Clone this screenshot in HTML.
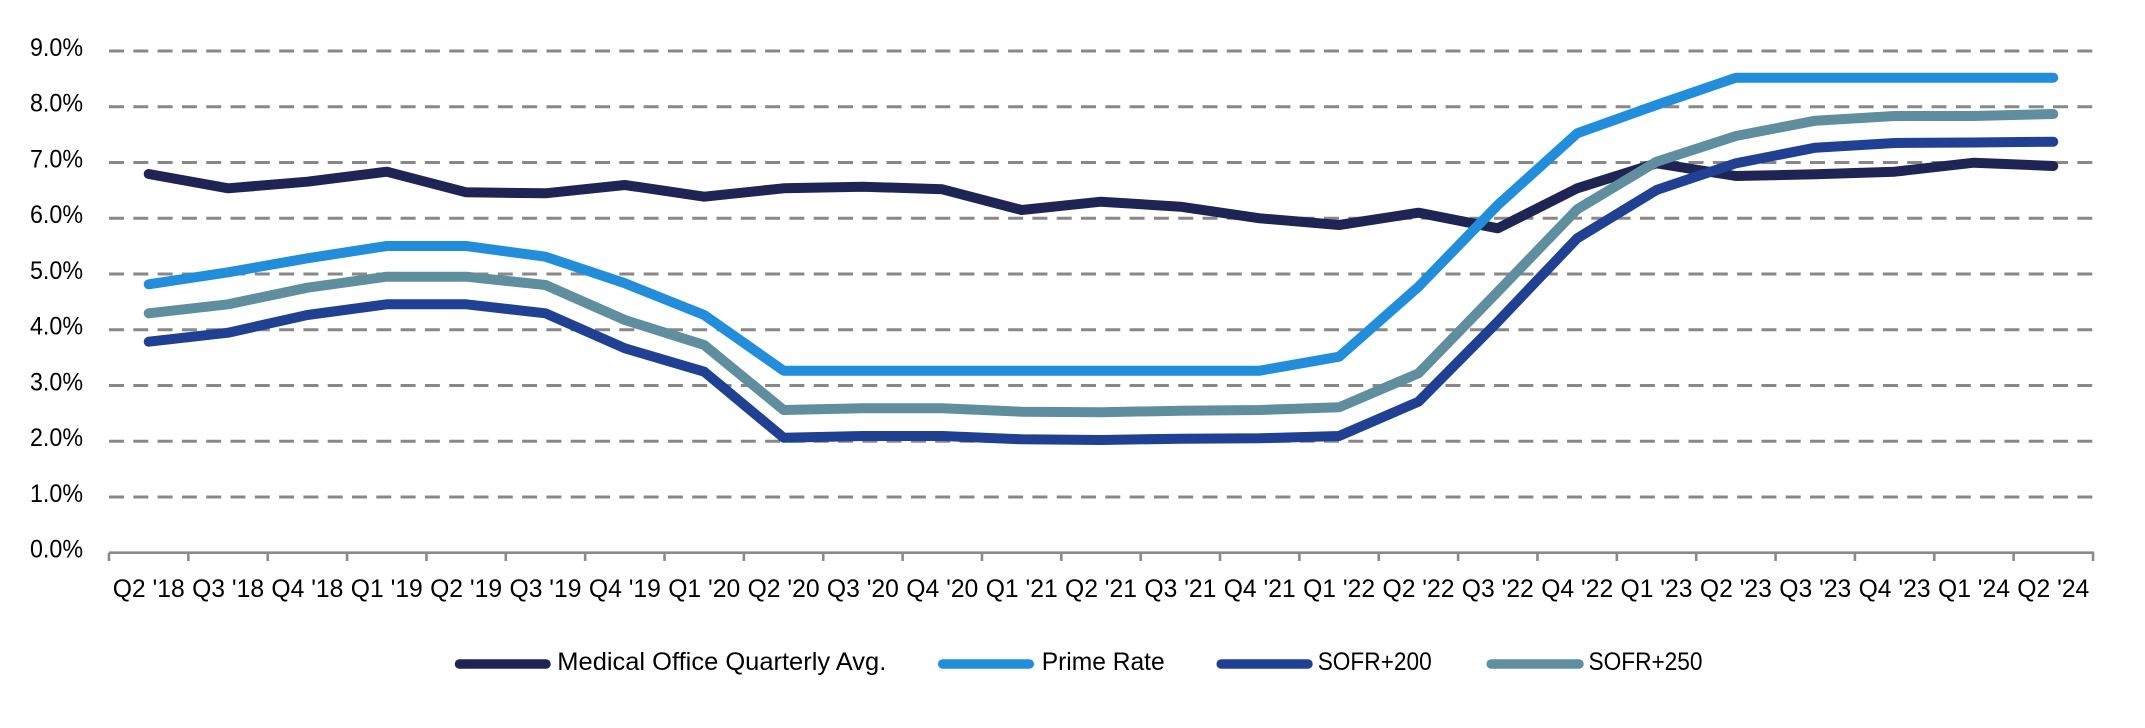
<!DOCTYPE html>
<html>
<head>
<meta charset="utf-8">
<style>
  html, body { margin: 0; padding: 0; background: #ffffff; }
  body { width: 2145px; height: 728px; overflow: hidden; }
  svg { display: block; }
  text { font-family: "Liberation Sans", Arial, sans-serif; fill: #000; }
</style>
</head>
<body>
<svg width="2145" height="728" viewBox="0 0 2145 728" xmlns="http://www.w3.org/2000/svg">
  <rect x="0" y="0" width="2145" height="728" fill="#ffffff"/>

  <!-- Gridlines -->
  <g stroke="#888888" stroke-width="3" stroke-dasharray="15 9.3" fill="none">
    <line x1="109" y1="496.95" x2="2093" y2="496.95"/>
    <line x1="109" y1="441.2" x2="2093" y2="441.2"/>
    <line x1="109" y1="385.45" x2="2093" y2="385.45"/>
    <line x1="109" y1="329.7" x2="2093" y2="329.7"/>
    <line x1="109" y1="273.95" x2="2093" y2="273.95"/>
    <line x1="109" y1="218.2" x2="2093" y2="218.2"/>
    <line x1="109" y1="162.45" x2="2093" y2="162.45"/>
    <line x1="109" y1="106.7" x2="2093" y2="106.7"/>
    <line x1="109" y1="50.95" x2="2093" y2="50.95"/>
  </g>

  <!-- X axis -->
  <g stroke="#8a8a8a" stroke-width="2.6" fill="none">
    <line x1="109" y1="552.7" x2="2094" y2="552.7"/>
    <line x1="109" y1="552.7" x2="109" y2="561"/>
    <line x1="188.36" y1="552.7" x2="188.36" y2="561"/>
    <line x1="267.72" y1="552.7" x2="267.72" y2="561"/>
    <line x1="347.08" y1="552.7" x2="347.08" y2="561"/>
    <line x1="426.44" y1="552.7" x2="426.44" y2="561"/>
    <line x1="505.8" y1="552.7" x2="505.8" y2="561"/>
    <line x1="585.16" y1="552.7" x2="585.16" y2="561"/>
    <line x1="664.52" y1="552.7" x2="664.52" y2="561"/>
    <line x1="743.88" y1="552.7" x2="743.88" y2="561"/>
    <line x1="823.24" y1="552.7" x2="823.24" y2="561"/>
    <line x1="902.6" y1="552.7" x2="902.6" y2="561"/>
    <line x1="981.96" y1="552.7" x2="981.96" y2="561"/>
    <line x1="1061.32" y1="552.7" x2="1061.32" y2="561"/>
    <line x1="1140.68" y1="552.7" x2="1140.68" y2="561"/>
    <line x1="1220.04" y1="552.7" x2="1220.04" y2="561"/>
    <line x1="1299.4" y1="552.7" x2="1299.4" y2="561"/>
    <line x1="1378.76" y1="552.7" x2="1378.76" y2="561"/>
    <line x1="1458.12" y1="552.7" x2="1458.12" y2="561"/>
    <line x1="1537.48" y1="552.7" x2="1537.48" y2="561"/>
    <line x1="1616.84" y1="552.7" x2="1616.84" y2="561"/>
    <line x1="1696.2" y1="552.7" x2="1696.2" y2="561"/>
    <line x1="1775.56" y1="552.7" x2="1775.56" y2="561"/>
    <line x1="1854.92" y1="552.7" x2="1854.92" y2="561"/>
    <line x1="1934.28" y1="552.7" x2="1934.28" y2="561"/>
    <line x1="2013.64" y1="552.7" x2="2013.64" y2="561"/>
    <line x1="2093" y1="552.7" x2="2093" y2="561"/>
  </g>

  <!-- Y labels -->
  <g font-size="25" text-anchor="end">
    <text x="83" y="557.7" textLength="53" lengthAdjust="spacingAndGlyphs">0.0%</text>
    <text x="83" y="501.95" textLength="53" lengthAdjust="spacingAndGlyphs">1.0%</text>
    <text x="83" y="446.2" textLength="53" lengthAdjust="spacingAndGlyphs">2.0%</text>
    <text x="83" y="390.45" textLength="53" lengthAdjust="spacingAndGlyphs">3.0%</text>
    <text x="83" y="334.7" textLength="53" lengthAdjust="spacingAndGlyphs">4.0%</text>
    <text x="83" y="278.95" textLength="53" lengthAdjust="spacingAndGlyphs">5.0%</text>
    <text x="83" y="223.2" textLength="53" lengthAdjust="spacingAndGlyphs">6.0%</text>
    <text x="83" y="167.45" textLength="53" lengthAdjust="spacingAndGlyphs">7.0%</text>
    <text x="83" y="111.7" textLength="53" lengthAdjust="spacingAndGlyphs">8.0%</text>
    <text x="83" y="55.95" textLength="53" lengthAdjust="spacingAndGlyphs">9.0%</text>
  </g>

  <!-- X labels -->
  <g font-size="25" text-anchor="middle">
    <text x="148.7" y="597" textLength="72" lengthAdjust="spacingAndGlyphs">Q2 '18</text>
    <text x="228.1" y="597" textLength="72" lengthAdjust="spacingAndGlyphs">Q3 '18</text>
    <text x="307.4" y="597" textLength="72" lengthAdjust="spacingAndGlyphs">Q4 '18</text>
    <text x="386.8" y="597" textLength="72" lengthAdjust="spacingAndGlyphs">Q1 '19</text>
    <text x="466.1" y="597" textLength="72" lengthAdjust="spacingAndGlyphs">Q2 '19</text>
    <text x="545.5" y="597" textLength="72" lengthAdjust="spacingAndGlyphs">Q3 '19</text>
    <text x="624.9" y="597" textLength="72" lengthAdjust="spacingAndGlyphs">Q4 '19</text>
    <text x="704.2" y="597" textLength="72" lengthAdjust="spacingAndGlyphs">Q1 '20</text>
    <text x="783.6" y="597" textLength="72" lengthAdjust="spacingAndGlyphs">Q2 '20</text>
    <text x="862.9" y="597" textLength="72" lengthAdjust="spacingAndGlyphs">Q3 '20</text>
    <text x="942.3" y="597" textLength="72" lengthAdjust="spacingAndGlyphs">Q4 '20</text>
    <text x="1021.7" y="597" textLength="72" lengthAdjust="spacingAndGlyphs">Q1 '21</text>
    <text x="1101.0" y="597" textLength="72" lengthAdjust="spacingAndGlyphs">Q2 '21</text>
    <text x="1180.4" y="597" textLength="72" lengthAdjust="spacingAndGlyphs">Q3 '21</text>
    <text x="1259.7" y="597" textLength="72" lengthAdjust="spacingAndGlyphs">Q4 '21</text>
    <text x="1339.1" y="597" textLength="72" lengthAdjust="spacingAndGlyphs">Q1 '22</text>
    <text x="1418.5" y="597" textLength="72" lengthAdjust="spacingAndGlyphs">Q2 '22</text>
    <text x="1497.8" y="597" textLength="72" lengthAdjust="spacingAndGlyphs">Q3 '22</text>
    <text x="1577.2" y="597" textLength="72" lengthAdjust="spacingAndGlyphs">Q4 '22</text>
    <text x="1656.5" y="597" textLength="72" lengthAdjust="spacingAndGlyphs">Q1 '23</text>
    <text x="1735.9" y="597" textLength="72" lengthAdjust="spacingAndGlyphs">Q2 '23</text>
    <text x="1815.3" y="597" textLength="72" lengthAdjust="spacingAndGlyphs">Q3 '23</text>
    <text x="1894.6" y="597" textLength="72" lengthAdjust="spacingAndGlyphs">Q4 '23</text>
    <text x="1974.0" y="597" textLength="72" lengthAdjust="spacingAndGlyphs">Q1 '24</text>
    <text x="2053.3" y="597" textLength="72" lengthAdjust="spacingAndGlyphs">Q2 '24</text>
  </g>

  <!-- Series -->
  <g fill="none" stroke-width="10" stroke-linecap="round" stroke-linejoin="round">
    <!-- Medical Office Quarterly Avg. -->
    <polyline stroke="#1e2454" points="148.7,174 228.1,188.3 307.4,181.7 386.8,171.7 466.1,192.3 545.5,193.3 624.9,185 704.2,196.7 783.6,188.3 862.9,186.7 942.3,189.3 1021.7,210 1101.0,201.7 1180.4,206.7 1259.7,218.3 1339.1,225 1418.5,212.7 1497.8,228.3 1577.2,188.3 1656.5,163.3 1735.9,176 1815.3,174.3 1894.6,171.7 1974.0,162.7 2053.3,166"/>
    <!-- Prime Rate -->
    <polyline stroke="#228edb" points="148.7,284.3 228.1,272.3 307.4,258.3 386.8,246 466.1,246 545.5,256.7 624.9,283.3 704.2,315 783.6,370.7 862.9,370.7 942.3,370.7 1021.7,370.7 1101.0,370.7 1180.4,370.7 1259.7,370.7 1339.1,356.7 1418.5,286.7 1497.8,205 1577.2,133.3 1656.5,105 1735.9,77.7 1815.3,77.7 1894.6,77.7 1974.0,77.7 2053.3,77.7"/>
    <!-- SOFR+200 -->
    <polyline stroke="#1f4093" points="148.7,341.7 228.1,332.7 307.4,315 386.8,304.3 466.1,304.3 545.5,313.3 624.9,348.3 704.2,371.7 783.6,437.7 862.9,436 942.3,436 1021.7,439.3 1101.0,440 1180.4,438.7 1259.7,438.3 1339.1,436 1418.5,401.7 1497.8,321.7 1577.2,238.3 1656.5,190 1735.9,163.3 1815.3,147.7 1894.6,143 1974.0,142.5 2053.3,141.7"/>
    <!-- SOFR+250 -->
    <polyline stroke="#5f8f9e" points="148.7,313.3 228.1,304.3 307.4,287.7 386.8,276.7 466.1,276.7 545.5,285 624.9,320 704.2,345 783.6,410 862.9,408.3 942.3,408.3 1021.7,411.7 1101.0,412.3 1180.4,410.7 1259.7,410 1339.1,407.3 1418.5,373.3 1497.8,291.7 1577.2,209.3 1656.5,161.7 1735.9,136 1815.3,120.7 1894.6,116 1974.0,116 2053.3,114"/>
  </g>

  <!-- Legend -->
  <g fill="none" stroke-width="9.5" stroke-linecap="round">
    <line x1="459.5" y1="664" x2="546" y2="664" stroke="#1e2454"/>
    <line x1="942.7" y1="664" x2="1029.3" y2="664" stroke="#228edb"/>
    <line x1="1221.2" y1="664" x2="1308" y2="664" stroke="#1f4093"/>
    <line x1="1491.2" y1="664" x2="1579" y2="664" stroke="#5f8f9e"/>
  </g>
  <g font-size="25">
    <text x="557.3" y="670" textLength="329" lengthAdjust="spacingAndGlyphs">Medical Office Quarterly Avg.</text>
    <text x="1041.7" y="670" textLength="123" lengthAdjust="spacingAndGlyphs">Prime Rate</text>
    <text x="1317.7" y="670" textLength="114" lengthAdjust="spacingAndGlyphs">SOFR+200</text>
    <text x="1588.5" y="670" textLength="114" lengthAdjust="spacingAndGlyphs">SOFR+250</text>
  </g>
</svg>
</body>
</html>
